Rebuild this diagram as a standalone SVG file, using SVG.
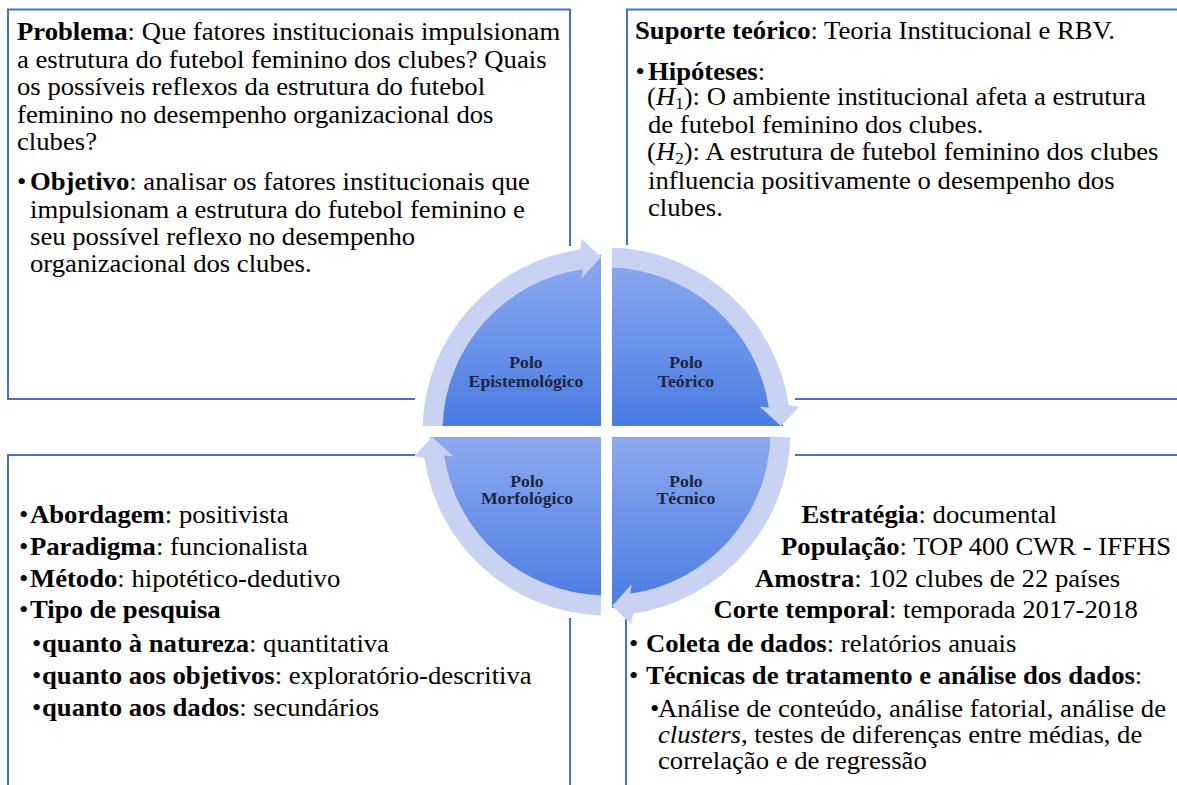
<svg xmlns="http://www.w3.org/2000/svg" width="1177" height="785" viewBox="0 0 1177 785">
<defs>
<linearGradient id="pieGrad" x1="0" y1="0" x2="0" y2="1">
<stop offset="0" stop-color="#8CA9EF"/>
<stop offset="1" stop-color="#4A7CE2"/>
</linearGradient>
<style>
.border{fill:none;stroke:#4472C4;stroke-width:2}
.t{font-family:"Liberation Serif","Times New Roman",serif;font-size:25px;fill:#000}
.b{font-weight:bold}
.i{font-style:italic}
.sub{font-size:16px}
.pie{fill:url(#pieGrad)}
.arrow{fill:#C8D2F2}
.pl{font-family:"Liberation Serif","Times New Roman",serif;font-size:17px;font-weight:bold;fill:#1C2541;text-anchor:middle}
</style>
</defs>
<rect width="1177" height="785" fill="#fff"/>

<g id="box-epistemologico">
<path class="border" d="M570,246 L570,9.5 L8,9.5 L8,399 L415,399"/>
<g class="t" transform="translate(17,0) scale(1.067,1)">
<text x="0" y="40"><tspan class="b">Problema</tspan>: Que fatores institucionais impulsionam</text>
<text x="0" y="68">a estrutura do futebol feminino dos clubes? Quais</text>
<text x="0" y="95">os possíveis reflexos da estrutura do futebol</text>
<text x="0" y="123">feminino no desempenho organizacional dos</text>
<text x="0" y="150">clubes?</text>
<text x="0" y="190">•</text>
<text x="12.2" y="190"><tspan class="b">Objetivo</tspan>: analisar os fatores institucionais que</text>
<text x="12.2" y="218">impulsionam a estrutura do futebol feminino e</text>
<text x="12.2" y="245">seu possível reflexo no desempenho</text>
<text x="12.2" y="272">organizacional dos clubes.</text>
</g>
</g>

<g id="box-teorico">
<path class="border" d="M627,245 L627,9.5 L1180,9.5 M795,399 L1180,399"/>
<g class="t" transform="translate(635,0) scale(1.067,1)">
<text x="0" y="39"><tspan class="b">Suporte teórico</tspan>: Teoria Institucional e RBV.</text>
<text x="0.5" y="80">•</text>
<text x="12.2" y="80"><tspan class="b">Hipóteses</tspan>:</text>
<text x="11.3" y="105.5">(<tspan class="i">H</tspan><tspan class="sub" dy="3.5">1</tspan><tspan dy="-3.5">): O ambiente institucional afeta a estrutura</tspan></text>
<text x="12.2" y="133.5">de futebol feminino dos clubes.</text>
<text x="11.3" y="160.5">(<tspan class="i">H</tspan><tspan class="sub" dy="3.5">2</tspan><tspan dy="-3.5">): A estrutura de futebol feminino dos clubes</tspan></text>
<text x="12.2" y="189">influencia positivamente o desempenho dos</text>
<text x="12.2" y="216">clubes.</text>
</g>
</g>

<g id="box-morfologico">
<path class="border" d="M415,455 L8,455 L8,790 M570,618 L570,790"/>
<g class="t" transform="translate(19,0) scale(1.067,1)">
<text x="0" y="523">•</text>
<text x="10.3" y="523"><tspan class="b">Abordagem</tspan>: positivista</text>
<text x="0" y="555">•</text>
<text x="10.3" y="555"><tspan class="b">Paradigma</tspan>: funcionalista</text>
<text x="0" y="587">•</text>
<text x="10.3" y="587"><tspan class="b">Método</tspan>: hipotético-dedutivo</text>
<text x="0" y="618">•</text>
<text x="10.3" y="618" class="b">Tipo de pesquisa</text>
<text x="12.2" y="652">•</text>
<text x="21.6" y="652"><tspan class="b">quanto à natureza</tspan>: quantitativa</text>
<text x="12.2" y="684">•</text>
<text x="21.6" y="684"><tspan class="b">quanto aos objetivos</tspan>: exploratório-descritiva</text>
<text x="12.2" y="716">•</text>
<text x="21.6" y="716"><tspan class="b">quanto aos dados</tspan>: secundários</text>
</g>
</g>

<g id="box-tecnico">
<path class="border" d="M795,455 L1180,455 M626,619 L626,790"/>
<g class="t" transform="translate(626,0) scale(1.067,1)">
<text x="164.5" y="523"><tspan class="b">Estratégia</tspan>: documental</text>
<text x="145.3" y="555"><tspan class="b">População</tspan>: TOP 400 CWR - IFFHS</text>
<text x="120.9" y="587"><tspan class="b">Amostra</tspan>: 102 clubes de 22 países</text>
<text x="82" y="618"><tspan class="b">Corte temporal</tspan>: temporada 2017-2018</text>
<text x="2.8" y="652">•</text>
<text x="18.7" y="652"><tspan class="b">Coleta de dados</tspan>: relatórios anuais</text>
<text x="2.8" y="684">•</text>
<text x="18.7" y="684"><tspan class="b">Técnicas de tratamento e análise dos dados</tspan>:</text>
<text x="22.5" y="717">•</text>
<text x="30" y="717">Análise de conteúdo, análise fatorial, análise de</text>
<text x="30" y="743"><tspan class="i">clusters</tspan>, testes de diferenças entre médias, de</text>
<text x="30" y="769">correlação e de regressão</text>
</g>
</g>

<g id="polo-epistemologico">
<path class="pie" d="M601,426 L430,426 A171,171 0 0 1 601,255 Z"/>
</g>
<g id="polo-teorico">
<path class="pie" d="M612,426 L612,255 A171,171 0 0 1 783,426 Z"/>
</g>
<g id="polo-tecnico">
<path class="pie" d="M612,437 L783,437 A171,171 0 0 1 612,608 Z"/>
</g>
<g id="polo-morfologico">
<path class="pie" d="M601,437 L601,608 A171,171 0 0 1 430,437 Z"/>
</g>

<g id="connectors">
<path class="arrow" d="M422.59,425.72 A184,184 0 0 1 579.94,249.43 L581.85,239.07 L601.02,257.09 L581.45,278.54 L582.83,269.22 A164,164 0 0 0 442.58,426.35 Z"/>
<path class="arrow" d="M612.28,247.59 A184,184 0 0 1 788.57,404.94 L798.93,406.85 L780.91,426.02 L759.46,406.45 L768.78,407.83 A164,164 0 0 0 611.65,267.58 Z"/>
<path class="arrow" d="M790.41,437.28 A184,184 0 0 1 633.06,613.57 L631.15,623.93 L611.98,605.91 L631.55,584.46 L630.17,593.78 A164,164 0 0 0 770.42,436.65 Z"/>
<path class="arrow" d="M600.72,615.41 A184,184 0 0 1 424.43,458.06 L414.07,456.15 L432.09,436.98 L453.54,456.55 L444.22,455.17 A164,164 0 0 0 601.35,595.42 Z"/>
</g>

<g id="labels">
<g transform="translate(526,0) scale(1.04,1)">
<text class="pl" x="0" y="368">Polo</text>
<text class="pl" x="0" y="387">Epistemológico</text>
</g>
<g transform="translate(686,0) scale(1.04,1)">
<text class="pl" x="0" y="368">Polo</text>
<text class="pl" x="0" y="387">Teórico</text>
</g>
<g transform="translate(527,0) scale(1.04,1)">
<text class="pl" x="0" y="487">Polo</text>
<text class="pl" x="0" y="504.5">Morfológico</text>
</g>
<g transform="translate(686,0) scale(1.04,1)">
<text class="pl" x="0" y="487">Polo</text>
<text class="pl" x="0" y="504.5">Técnico</text>
</g>
</g>
</svg>
